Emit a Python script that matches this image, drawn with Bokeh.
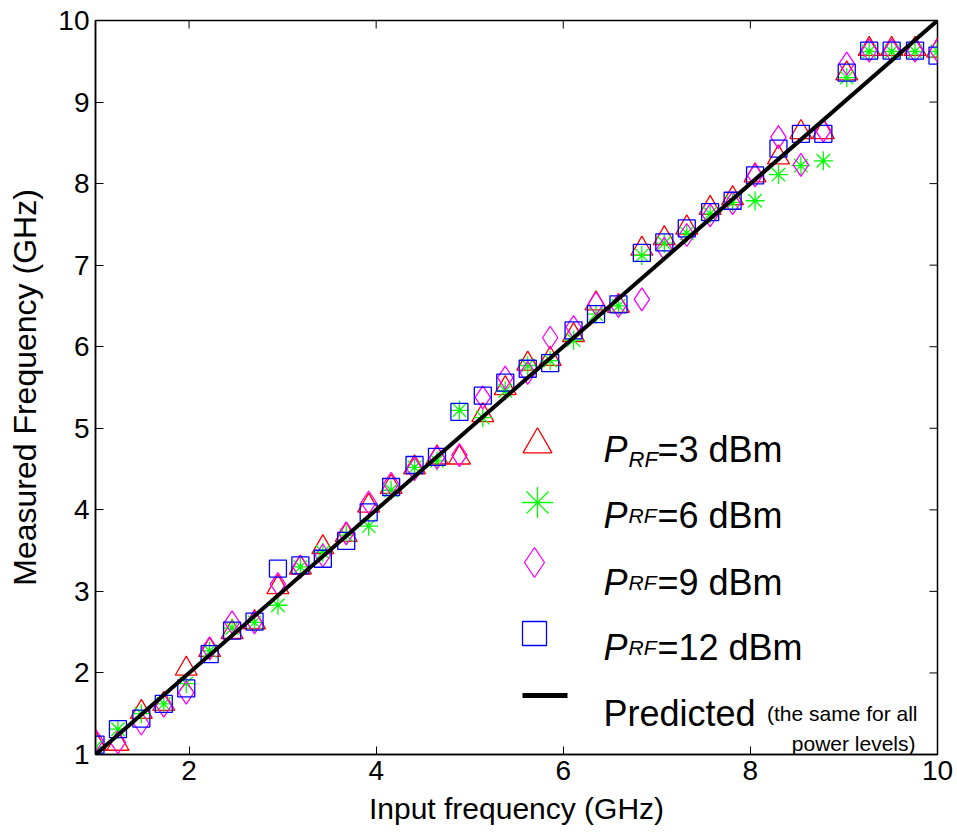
from bokeh.plotting import figure
from bokeh.models import Label, FixedTicker, Range1d
from bokeh.embed import file_html
from bokeh.resources import INLINE

# Input frequency sweep (GHz)
input_ghz = [1.00, 1.24, 1.49, 1.73, 1.97, 2.22, 2.46, 2.70, 2.95, 3.19,
             3.43, 3.68, 3.92, 4.16, 4.41, 4.65, 4.89, 5.14, 5.38, 5.62,
             5.86, 6.11, 6.35, 6.59, 6.84, 7.08, 7.32, 7.57, 7.81, 8.05,
             8.30, 8.54, 8.78, 9.03, 9.27, 9.51, 9.76, 10.00]

# Measured output frequency (GHz) for each RF drive level
meas_3dbm = [1.13, 1.13, 1.52, 1.62, 2.05, 2.28, 2.50, 2.62, 3.05, 3.29,
             3.54, 3.69, 4.05, 4.28, 4.52, 4.64, 4.64, 5.16, 5.49, 5.79,
             5.85, 6.14, 6.53, 6.50, 7.20, 7.33, 7.46, 7.70, 7.82, 8.10,
             8.32, 8.63, 8.63, 9.35, 9.65, 9.65, 9.65, 9.63]
meas_6dbm = [1.09, 1.31, 1.50, 1.62, 1.87, 2.27, 2.55, 2.62, 2.83, 3.30,
             3.48, 3.69, 3.80, 4.24, 4.52, 4.60, 5.22, 5.13, 5.46, 5.77,
             5.83, 6.08, 6.40, 6.50, 7.12, 7.27, 7.39, 7.63, 7.77, 7.79,
             8.11, 8.22, 8.28, 9.30, 9.62, 9.62, 9.62, 9.62]
meas_9dbm = [1.17, 1.15, 1.38, 1.60, 1.76, 2.30, 2.62, 2.62, 3.09, 3.30,
             3.44, 3.71, 4.09, 4.32, 4.50, 4.64, 4.67, 5.38, 5.62, 5.68,
             6.11, 6.24, 6.53, 6.50, 6.58, 7.20, 7.37, 7.61, 7.76, 8.10,
             8.57, 8.23, 8.65, 9.47, 9.63, 9.63, 9.63, 9.63]
meas_12dbm = [1.12, 1.31, 1.44, 1.62, 1.81, 2.23, 2.52, 2.63, 3.28, 3.32,
              3.40, 3.62, 3.97, 4.28, 4.55, 4.65, 5.20, 5.40, 5.56, 5.73,
              5.80, 6.20, 6.40, 6.52, 7.15, 7.28, 7.45, 7.65, 7.79, 8.10,
              8.43, 8.61, 8.61, 9.36, 9.63, 9.63, 9.63, 9.57]

# Predicted response (identical for all power levels)
pred_in = [1.0, 10.0]
pred_out = [1.0, 10.0]

x_ticks = [2, 4, 6, 8, 10]
y_ticks = [1, 2, 3, 4, 5, 6, 7, 8, 9, 10]

FONT = "Liberation Sans"
W, H = 957, 833
LEFT, RIGHT, TOP, BOTTOM = 95, 20, 20, 79
FW, FH = W - LEFT - RIGHT, H - TOP - BOTTOM
X0, X1, Y0, Y1 = 1, 10, 1, 10
TICK = 8


def sx(px):
    """Screen x pixel -> data x."""
    return X0 + (px - LEFT) * (X1 - X0) / FW


def sy(py):
    """Screen y pixel -> data y."""
    return Y0 + (H - BOTTOM - py) * (Y1 - Y0) / FH


p = figure(width=W, height=H, x_range=Range1d(X0, X1), y_range=Range1d(Y0, Y1),
           output_backend="svg", toolbar_location=None,
           min_border_left=LEFT, min_border_right=RIGHT,
           min_border_top=TOP, min_border_bottom=BOTTOM)
p.grid.visible = False
p.outline_line_color = "black"
p.outline_line_width = 1.5
p.outline_line_alpha = 1.0
p.background_fill_color = "white"
p.border_fill_color = "white"

p.xaxis.ticker = FixedTicker(ticks=x_ticks)
p.yaxis.ticker = FixedTicker(ticks=y_ticks)

for ax in p.axis:
    ax.major_tick_in = TICK
    ax.major_tick_out = 0
    ax.minor_tick_in = 0
    ax.minor_tick_out = 0
    ax.axis_line_width = 1.5
    ax.axis_line_color = "black"
    ax.major_tick_line_color = "black"
    ax.major_tick_line_width = 1
    ax.major_label_text_font = FONT
    ax.major_label_text_font_size = "28px"
    ax.major_label_text_color = "black"
    ax.axis_label_text_font = FONT
    ax.axis_label_text_font_style = "normal"
    ax.axis_label_text_color = "black"

p.xaxis.axis_label = "Input frequency (GHz)"
p.xaxis.major_label_standoff = 6
p.xaxis.axis_label_standoff = 9
p.xaxis.axis_label_text_font_size = "30px"
p.yaxis.axis_label = "Measured Frequency (GHz)"
p.yaxis.major_label_standoff = 6
p.yaxis.axis_label_standoff = 12
p.yaxis.axis_label_text_font_size = "32px"

# Inward ticks on the top and right edges of the box
top_len = sy(TOP) - sy(TOP + TICK)
right_len = sx(W - RIGHT) - sx(W - RIGHT - TICK)
p.segment(x0=x_ticks, y0=[Y1] * len(x_ticks), x1=x_ticks,
          y1=[Y1 - top_len] * len(x_ticks), line_color="black", line_width=1)
p.segment(x0=[X1] * len(y_ticks), y0=y_ticks, x1=[X1 - right_len] * len(y_ticks),
          y1=y_ticks, line_color="black", line_width=1)

series = [
    (meas_3dbm, "triangle", "#ff0000", 22),
    (meas_6dbm, "asterisk", "#00ff00", 19),
    (meas_9dbm, "diamond", "#ff00ff", 23),
    (meas_12dbm, "square", "#0000ff", 17),
]
for vals, marker, color, size in series:
    p.scatter(input_ghz, vals, marker=marker, size=size, fill_color=None,
              line_color=color, line_width=1.3)

p.line(pred_in, pred_out, line_color="black", line_width=4, line_join="round")

# Legend, drawn by hand so the labels can carry a subscript
legend_rows = [
    ("triangle", "#ff0000", 29, 537, 444, "=3 dBm", 449, 10, "22px"),
    ("asterisk", "#00ff00", 31, 537, 502, "=6 dBm", 515, 0, "21px"),
    ("diamond", "#ff00ff", 30, 534, 562, "=9 dBm", 582, 0, "21px"),
    ("square", "#0000ff", 24, 534, 633, "=12 dBm", 647, 0, "21px"),
]


def add_text(px, py, text, size, style="normal", align="left"):
    p.add_layout(Label(x=sx(px), y=sy(py), text=text, text_font=FONT,
                       text_font_size=size, text_font_style=style,
                       text_color="black", text_baseline="alphabetic",
                       text_align=align))


for marker, color, size, mx, my, rest, base, sub_drop, sub_size in legend_rows:
    p.scatter([sx(mx)], [sy(my)], marker=marker, size=size, fill_color=None,
              line_color=color, line_width=1.3)
    add_text(603, base, "P", "36px", style="italic")
    add_text(628, base + sub_drop, "RF", sub_size, style="italic")
    add_text(657, base, rest, "36px")

p.line([sx(522), sx(567)], [sy(695), sy(695)], line_color="black", line_width=5)
add_text(603, 713, "Predicted", "36px")
add_text(917, 713, "(the same for all", "21px", align="right")
add_text(915, 743, "power levels)", "21px", align="right")

open("out.html", "w").write(file_html(p, INLINE))
